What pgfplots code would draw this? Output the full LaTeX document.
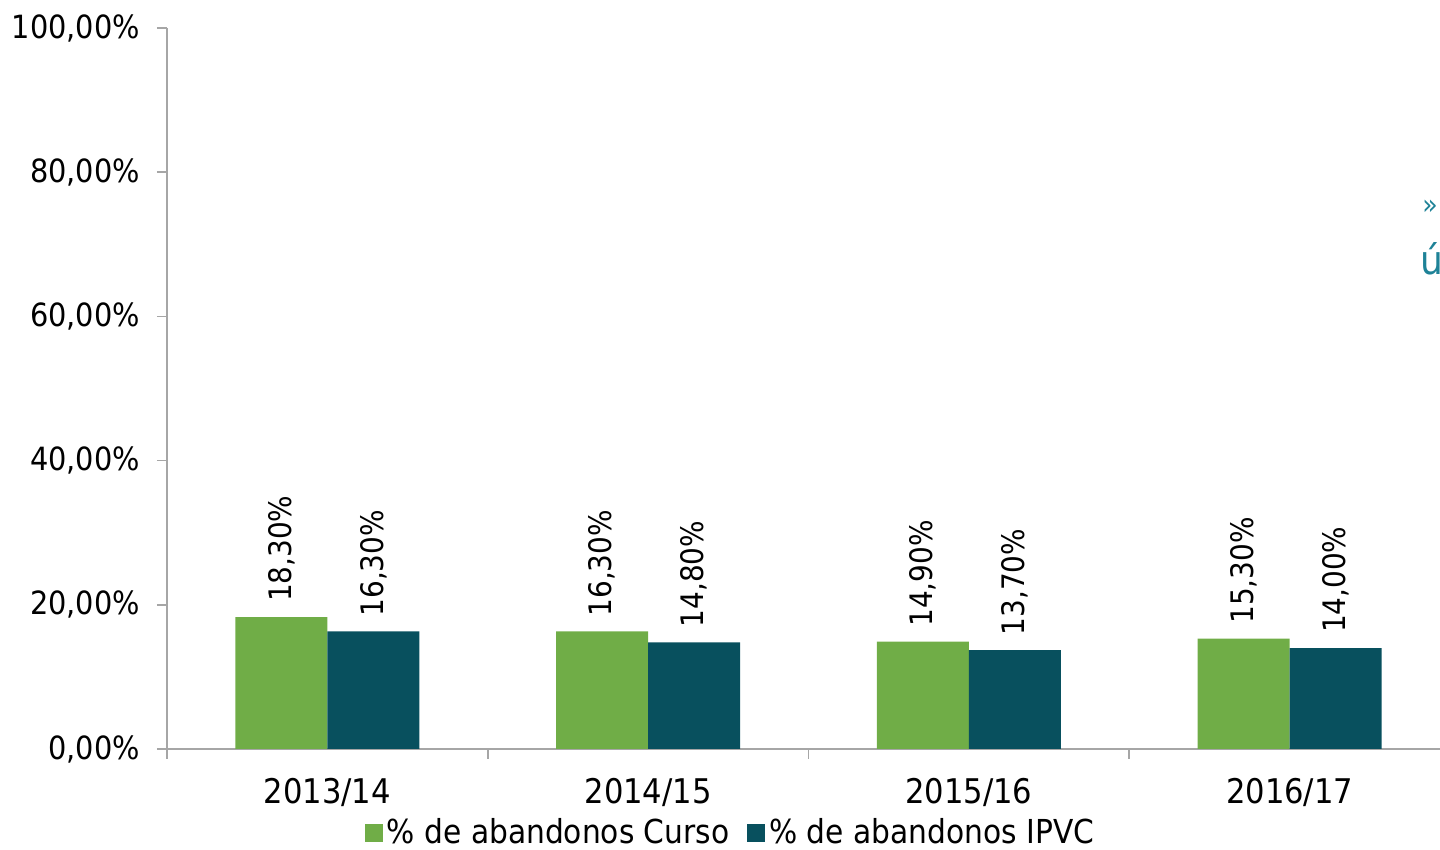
\documentclass[border=0pt]{standalone}
\usepackage{pgfplots}
\pgfplotsset{compat=1.18}
\usepackage{fontspec}
\setmainfont{DejaVu Sans Condensed}
\definecolor{cgreen}{HTML}{70AD47}
\definecolor{cteal}{HTML}{08505E}
\definecolor{caxis}{HTML}{A6A6A6}
\definecolor{ctext}{HTML}{1E8297}
\begin{document}
\begin{tikzpicture}
\begin{axis}[
  at={(83.5pt,50.5pt)}, anchor=south west,
  scale only axis, width=641.5pt, height=360.5pt,
  xmin=-0.5, xmax=3.5, ymin=0, ymax=100,
  ybar=0pt, bar width=46pt,
  axis x line*=bottom, axis y line*=left,
  axis line style={caxis, line width=0.8pt, -},
  tick align=outside, major tick length=5pt,
  tick style={caxis, line width=0.8pt},
  xtick={-0.5,0.5,1.5,2.5},
  xticklabels={},
  extra x ticks={0,1,2,3},
  extra x tick labels={2013/14,2014/15,2015/16,2016/17},
  extra x tick style={major tick length=0pt, xticklabel style={yshift=-11pt, font=\fontsize{17}{20}\selectfont}},
  ytick={0,20,40,60,80,100},
  yticklabels={{0,00\%},{20,00\%},{40,00\%},{60,00\%},{80,00\%},{100,00\%}},
  ticklabel style={font=\fontsize{16}{19}\selectfont, text=black},
  yticklabel style={xshift=-5pt},
  point meta=explicit symbolic,
  nodes near coords,
  nodes near coords style={rotate=90, anchor=west, font=\fontsize{15.5}{19}\selectfont, text=black, xshift=4pt},
  legend style={at={(0.44,-0.116)}, anchor=center, draw=none, fill=none,
    legend columns=2, font=\fontsize{16.5}{19}\selectfont,
    /tikz/every even column/.append style={column sep=7pt}},
  legend image code/.code={\fill[#1] (0pt,-4.5pt) rectangle (9pt,4.5pt);},
]
\addplot[fill=cgreen, draw=none] coordinates {
  (0,18.3) [18,30\%]
  (1,16.3) [16,30\%]
  (2,14.9) [14,90\%]
  (3,15.3) [15,30\%]
};
\addlegendentry{\% de abandonos Curso}
\addplot[fill=cteal, draw=none] coordinates {
  (0,16.3) [16,30\%]
  (1,14.8) [14,80\%]
  (2,13.7) [13,70\%]
  (3,14.0) [14,00\%]
};
\addlegendentry{\% de abandonos IPVC}
\end{axis}
\node[anchor=center, text=ctext, font=\fontsize{14}{16}\selectfont] at (715pt,321.5pt) {»};
\node[anchor=base west, text=ctext, font=\fontsize{20}{24}\selectfont, inner sep=0pt] at (710pt,287.5pt) {últimos};
\pgfresetboundingbox
\useasboundingbox (0,0) rectangle (720pt,425pt);
\end{tikzpicture}
\end{document}
